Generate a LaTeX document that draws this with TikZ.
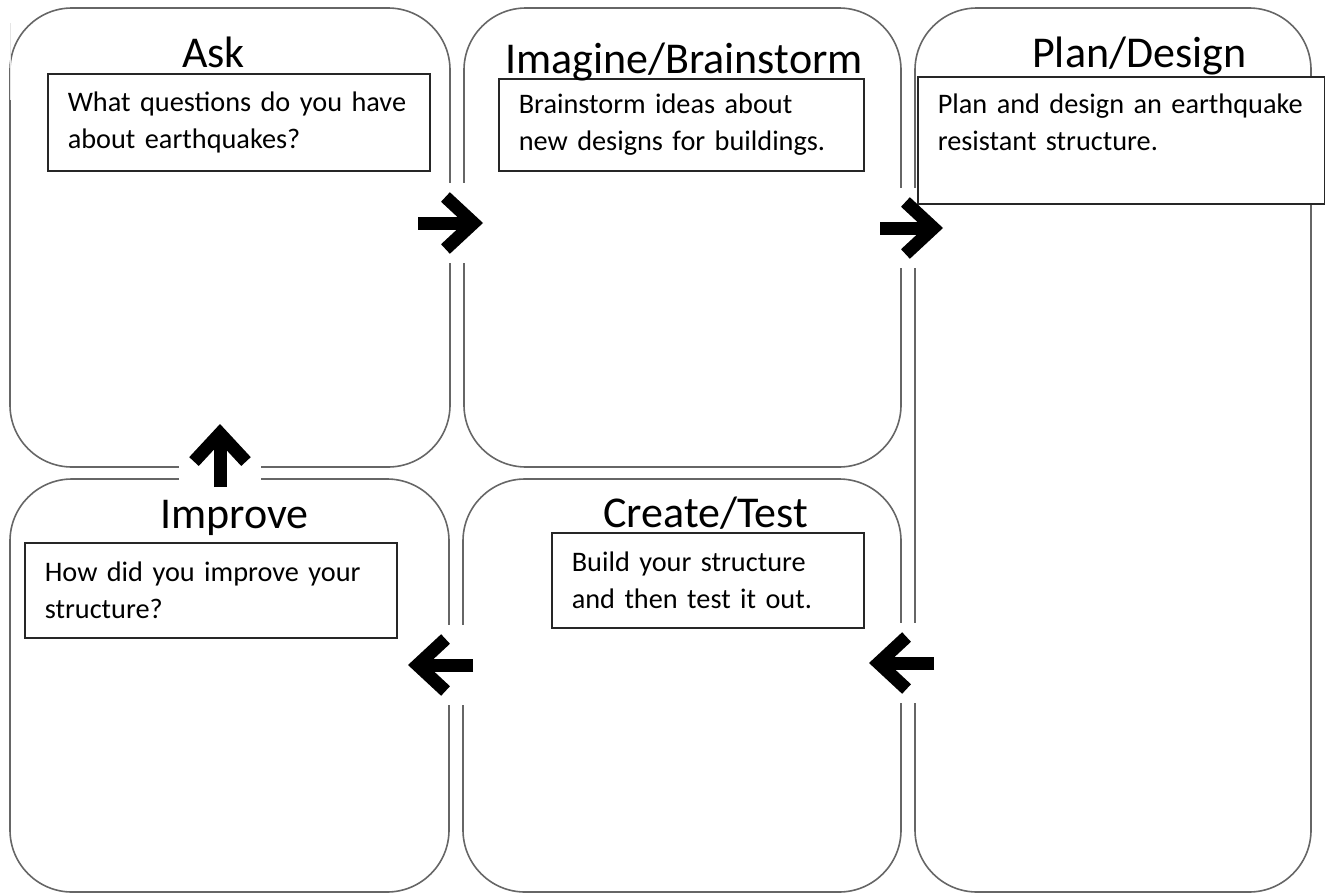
\documentclass[tikz,border=0pt]{standalone}
\usepackage{fontspec}
\setmainfont{Carlito}
\usetikzlibrary{arrows.meta}

\tikzset{
  stage/.style={draw=black!60, line width=1.6pt, rounded corners=62pt, inner sep=0pt},
  title/.style={anchor=base west, inner sep=0pt, font=\fontsize{44}{52}\selectfont},
  qbox/.style={draw=black!85, line width=1.6pt, fill=white, anchor=north west, align=left,
    inner xsep=20pt, inner ysep=0pt, font=\fontsize{28.3}{37}\selectfont},
  gap/.style={fill=white, inner sep=0pt},
  flow/.style={line width=13pt, -{Straight Barb[length=28pt, width=52pt]}},
}

\begin{document}
\begin{tikzpicture}[x=1pt, y=-1pt]
        \useasboundingbox (0,0) rectangle (1325,894);

        % stage boxes
        \node[stage, minimum width=440pt, minimum height=459pt] (ask) at (230,237.5) {};
        \node[stage, minimum width=437pt, minimum height=459pt] (imagine) at (682.5,237.5) {};
        \node[stage, minimum width=396pt, minimum height=884pt] (plan) at (1113,450) {};
        \node[stage, minimum width=439pt, minimum height=413pt] (improve) at (229.5,685.5) {};
        \node[stage, minimum width=438pt, minimum height=413pt] (create) at (682,685.5) {};
        \draw[black!10, line width=1pt] (10,23) -- (10,100);

        % breaks in the borders round the arrows
        \node[gap, minimum width=35pt, minimum height=80pt] (gapAI) at (450.5,223) {};
        \node[gap, minimum width=30pt, minimum height=80pt] (gapIP) at (911.5,228) {};
        \node[gap, minimum width=30pt, minimum height=80pt] (gapPC) at (901.5,663) {};
        \node[gap, minimum width=50pt, minimum height=80pt] (gapCI) at (440.5,665) {};
        \node[gap, minimum width=82pt, minimum height=50pt] (gapIA) at (220,455.5) {};

        % question boxes
        \node[qbox, text width=342pt, minimum height=97pt] (askq) at (47,73)
            {What questions do you have\\about earthquakes?};
        \node[qbox, text width=325pt, minimum height=92pt] (imagineq) at (498,78)
            {Brainstorm ideas about\\new designs for buildings.};
        \node[qbox, text width=367pt, minimum height=127pt] (planq) at (917,76)
            {Plan and design an earthquake\\resistant structure.\\\mbox{}};
        \node[qbox, text width=332pt, minimum height=95pt] (improveq) at (24,542)
            {How did you improve your\\structure?};
        \node[qbox, text width=272pt, minimum height=95pt] (createq) at (551,532)
            {Build your structure\\and then test it out.};

        % titles
        \node[title] (asktitle) at (182,67) {Ask};
        \node[title] (imaginetitle) at (505,73) {Imagine/Brainstorm};
        \node[title] (plantitle) at (1032,67) {Plan/Design};
        \node[title] (improvetitle) at (160,528) {Improve};
        \node[title] (createtitle) at (603,527) {Create/Test};

        % arrows
        \draw[flow] ([xshift=-32.5pt]gapAI.center) -- ([xshift=32.5pt]gapAI.center);
        \draw[flow] ([xshift=-31.5pt]gapIP.center) -- ([xshift=31.5pt]gapIP.center);
        \draw[flow] ([xshift=32.5pt]gapPC.center) -- ([xshift=-32.5pt]gapPC.center);
        \draw[flow] ([xshift=32.5pt]gapCI.center) -- ([xshift=-32.5pt]gapCI.center);
        \draw[flow] ([yshift=-31.5pt]gapIA.center) -- ([yshift=31.5pt]gapIA.center);

\end{tikzpicture}
\end{document}
